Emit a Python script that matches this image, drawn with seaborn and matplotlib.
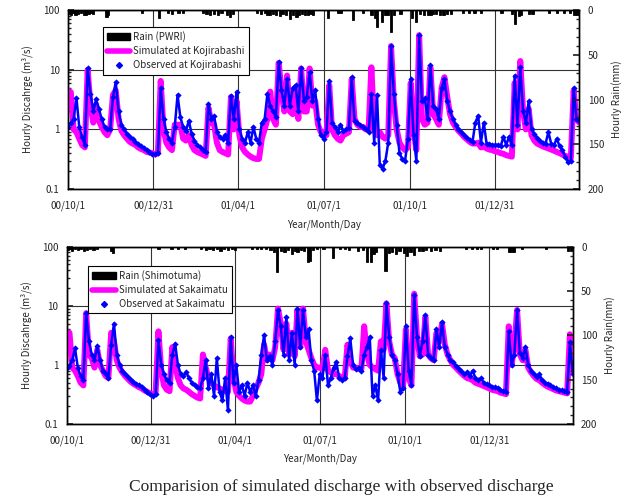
import pandas as pd
import matplotlib
matplotlib.use('Agg')
import matplotlib.pyplot as plt
import seaborn as sns
from matplotlib.lines import Line2D
from matplotlib.patches import Patch
from matplotlib.ticker import LogLocator, NullFormatter, MultipleLocator, FixedLocator

# series sampled every 3 days from 2000-10-01
start = pd.Timestamp('2000-10-01')
step_days = 3

koji_sim = [4.5, 4.2, 1.0, 0.9, 0.7, 0.55, 0.5, 10, 2.5, 1.3,
            2.6, 1.4, 1.1, 0.9, 0.8, 1.0, 3.8, 4.5, 1.5, 0.95,
            0.8, 0.7, 0.62, 0.58, 0.55, 0.5, 0.47, 0.45, 0.42, 0.41,
            0.4, 0.38, 0.4, 6.5, 1.0, 0.6, 0.5, 0.45, 1.2, 1.2,
            1.2, 0.7, 0.65, 0.8, 0.55, 0.45, 0.42, 0.4, 0.38, 0.36,
            2.3, 1.3, 1.2, 0.6, 0.45, 0.42, 0.4, 0.38, 3.5, 1.0,
            3.0, 0.8, 0.5, 0.42, 0.38, 0.35, 0.33, 0.32, 0.32, 0.7,
            1.0, 1.5, 4.3, 1.5, 1.2, 13, 4.5, 2.0, 8.0, 2.0,
            1.8, 4.5, 1.5, 10.5, 2.0, 2.0, 10.5, 2.5, 3.0, 1.2,
            0.9, 0.9, 0.8, 5.5, 1.0, 0.8, 0.7, 0.65, 0.8, 0.85,
            0.9, 7.0, 1.5, 1.2, 1.1, 1.1, 1.0, 1.0, 11, 1.0,
            0.8, 0.9, 0.75, 0.7, 0.8, 25, 3.0, 1.0, 0.6, 0.5,
            0.45, 0.5, 6.0, 1.0, 0.45, 38, 1.5, 1.2, 1.3, 11,
            1.8, 1.5, 1.2, 5.0, 7.5, 3.5, 1.8, 1.3, 1.1, 0.95,
            0.85, 0.75, 0.68, 0.62, 0.58, 0.58, 0.6, 0.5, 0.52, 0.48,
            0.46, 0.45, 0.43, 0.42, 0.4, 0.39, 0.37, 0.36, 0.35, 6.0,
            1.0, 14, 2.0, 1.0, 2.2, 0.8, 0.65, 0.58, 0.55, 0.52,
            0.5, 0.48, 0.46, 0.44, 0.42, 0.4, 0.38, 0.36, 0.35, 0.33,
            4.5, 1.5, 1.3]

koji_obs = [1.1, 1.3, 1.5, 3.4, 1.1, 0.75, 0.55, 10.5, 4.0, 2.0,
            3.2, 2.2, 1.5, 1.1, 1.0, 1.0, 3.5, 6.2, 2.0, 1.2,
            1.0, 0.85, 0.75, 0.68, 0.62, 0.57, 0.52, 0.48, 0.45, 0.42,
            0.39, 0.38, 0.4, 5.0, 1.5, 0.9, 0.7, 0.6, 1.1, 3.8,
            1.6, 1.1, 0.95, 1.4, 0.85, 0.65, 0.55, 0.5, 0.45, 0.42,
            2.7, 1.5, 1.7, 0.9, 0.75, 0.7, 0.8, 0.6, 3.7, 1.5,
            4.3, 1.0, 0.7, 0.6, 0.9, 0.6, 1.1, 0.7, 0.6, 1.3,
            1.5, 4.0, 2.5, 2.0, 1.6, 13.5, 4.5, 2.5, 7.0, 2.5,
            5.0, 5.5, 2.0, 10.5, 3.0, 3.5, 9.0, 3.0, 4.5, 1.5,
            0.8, 0.7, 0.9, 6.5, 1.3, 1.1, 0.9, 1.2, 0.95, 1.0,
            1.05, 7.5, 1.4, 1.3, 1.2, 1.1, 1.0, 0.9, 4.0, 0.6,
            3.8, 0.25, 0.22, 0.3, 0.6, 25, 4.0, 1.2, 0.4, 0.32,
            0.3, 0.7, 7.0, 0.8, 0.3, 38, 3.0, 3.3, 1.5, 12,
            2.5, 2.2, 1.5, 5.0, 7.0, 3.0, 2.0, 1.5, 1.2, 1.0,
            0.9, 0.8, 0.72, 0.66, 0.62, 1.3, 1.7, 0.6, 1.3, 0.58,
            0.56, 0.55, 0.55, 0.55, 0.52, 0.75, 0.55, 0.75, 0.55, 8.0,
            1.2, 11, 2.0, 1.3, 3.0, 1.0, 0.85, 0.72, 0.65, 0.6,
            0.58, 0.9, 0.58, 0.55, 0.7, 0.52, 0.45, 0.35, 0.28, 0.3,
            5.0, 1.5, 1.4]

saka_sim = [3.6, 3.5, 0.9, 0.8, 0.65, 0.5, 0.45, 7.5, 1.5, 1.3,
            0.9, 1.8, 1.0, 0.8, 0.65, 0.6, 3.5, 2.5, 1.2, 0.9,
            0.75, 0.65, 0.58, 0.52, 0.48, 0.45, 0.42, 0.4, 0.37, 0.35,
            0.33, 0.31, 0.35, 3.7, 0.8, 0.45, 0.38, 0.36, 2.0, 1.0,
            0.6, 0.45, 0.4, 0.38, 0.35, 0.32, 0.3, 0.28, 0.27, 1.5,
            0.9, 0.6, 0.5, 0.45, 0.42, 0.4, 0.38, 0.36, 0.35, 2.8,
            0.6, 0.35, 0.3, 0.27, 0.25, 0.24, 0.24, 0.3, 0.4, 0.5,
            0.7, 2.2, 1.2, 1.5, 1.2, 2.0, 9.0, 5.0, 1.8, 5.0,
            1.5, 3.5, 1.4, 8.5, 2.0, 9.0, 2.5, 1.8, 1.3, 1.0,
            0.9, 0.9, 0.85, 1.8, 0.8, 0.75, 0.7, 0.7, 0.65, 0.6,
            0.6, 2.2, 1.2, 0.9, 0.9, 0.85, 0.85, 4.5, 1.5, 1.0,
            0.9, 0.85, 0.8, 2.5, 1.8, 11, 2.5, 1.5, 1.3, 0.7,
            0.5, 0.45, 4.0, 0.6, 0.45, 16, 3.0, 1.4, 1.5, 6.5,
            1.5, 1.3, 1.2, 3.5, 2.5, 5.0, 2.2, 1.5, 1.2, 1.0,
            0.9, 0.8, 0.72, 0.65, 0.6, 0.58, 0.55, 0.5, 0.48, 0.46,
            0.44, 0.42, 0.4, 0.38, 0.37, 0.36, 0.34, 0.33, 0.32, 4.5,
            1.0, 2.0, 8.5, 1.5, 1.2, 1.8, 0.9, 0.75, 0.65, 0.58,
            0.55, 0.5, 0.46, 0.43, 0.41, 0.39, 0.37, 0.36, 0.35, 0.34,
            0.33, 3.3, 1.0]

saka_obs = [0.9, 0.95, 1.2, 1.9, 0.9, 0.65, 0.55, 7.6, 2.5, 1.5,
            1.2, 2.1, 1.2, 0.8, 0.7, 0.6, 2.2, 5.0, 1.5, 1.0,
            0.8, 0.7, 0.62, 0.56, 0.52, 0.48, 0.45, 0.42, 0.38, 0.35,
            0.32, 0.3, 0.32, 2.6, 1.0, 0.7, 0.55, 0.5, 1.5, 2.3,
            1.0, 0.7, 0.65, 0.75, 0.6, 0.5, 0.45, 0.42, 0.4, 0.6,
            1.2, 0.4, 0.7, 0.3, 1.3, 0.35, 0.25, 0.6, 0.17, 3.0,
            0.5, 1.0, 0.35, 0.45, 0.3, 0.5, 0.35, 0.45, 0.3, 0.55,
            1.5, 3.2, 1.2, 1.4, 1.0, 2.5, 8.5, 4.5, 1.5, 6.5,
            1.2, 3.5, 1.0, 9.0, 2.0, 8.5, 3.0, 4.0, 1.2, 0.8,
            0.25, 0.7, 0.6, 1.5, 0.45, 0.6, 0.9, 1.1, 0.6, 0.55,
            0.6, 1.4, 2.8, 1.0, 0.85, 0.9, 0.8, 1.5, 2.0, 3.0,
            0.3, 0.45, 0.25, 1.8, 0.6, 11, 3.0, 1.5, 1.2, 0.7,
            0.35, 0.4, 4.5, 0.8, 0.45, 15, 3.0, 1.4, 2.5, 7.0,
            1.5, 1.3, 1.2, 4.0, 2.0, 5.3, 2.0, 1.5, 1.2, 1.1,
            0.95, 0.85, 0.78, 0.7, 0.75, 0.65, 0.8, 0.6, 0.55, 0.6,
            0.5, 0.47, 0.45, 0.43, 0.42, 0.4, 0.38, 0.36, 0.35, 3.7,
            1.0, 1.5, 8.5, 1.6, 1.3, 2.0, 1.0, 0.8, 0.7, 0.62,
            0.7, 0.55, 0.5, 0.48, 0.45, 0.42, 0.4, 0.38, 0.37, 0.36,
            0.35, 2.4, 0.7]

# rain: day offset from 2000-10-01 and mm
pwri_day = [1, 3, 6, 8, 11, 14, 17, 19, 22, 25, 27, 41, 43, 79, 97, 107, 111, 118, 123,
            144, 148, 152, 156, 160, 164, 170, 173, 176, 202, 206, 210, 213, 216, 219, 222,
            226, 229, 233, 237, 240, 244, 247, 250, 253, 256, 259, 262, 278, 288, 291, 304,
            315, 324, 328, 330, 335, 339, 342, 345, 348, 355, 367, 372, 376, 380, 385, 388,
            390, 393, 397, 401, 405, 409, 422, 428, 434, 441, 463, 474, 477, 482, 484, 492,
            496, 514, 522, 530, 536, 541, 544]
pwri_mm = [4, 5, 3, 6, 4, 3, 5, 6, 4, 3, 4, 8, 5, 3, 9, 3, 4, 3, 3,
           3, 4, 5, 4, 6, 3, 5, 8, 4, 3, 4, 3, 5, 6, 4, 5,
           7, 4, 6, 10, 5, 8, 6, 4, 5, 5, 4, 6, 9, 3, 3, 11,
           3, 5, 9, 19, 13, 6, 6, 24, 5, 4, 9, 13, 4, 5, 5, 5,
           4, 4, 5, 5, 4, 4, 3, 3, 3, 3, 3, 4, 15, 7, 6, 4,
           4, 3, 3, 3, 3, 6, 6]

shimo_day = [1, 3, 6, 9, 12, 15, 19, 22, 25, 29, 33, 48, 50, 99, 113, 120, 128,
             145, 150, 154, 158, 162, 166, 170, 174, 178, 182, 200, 205, 210, 215, 220,
             224, 227, 231, 235, 239, 243, 246, 249, 253, 256, 260, 262, 266, 270, 277,
             287, 295, 300, 305, 314, 320, 324, 328, 331, 334, 344, 348, 351, 355, 359,
             364, 367, 371, 375, 380, 384, 388, 393, 398, 403, 431, 437, 443, 447, 460,
             464, 477, 480, 483, 491, 517, 541, 544]
shimo_mm = [4, 3, 5, 3, 4, 3, 5, 4, 3, 4, 3, 5, 7, 3, 3, 3, 3,
            3, 4, 3, 4, 3, 5, 3, 4, 3, 4, 3, 3, 3, 3, 4,
            6, 28, 5, 6, 4, 8, 5, 6, 4, 5, 17, 16, 4, 3, 3,
            13, 3, 3, 4, 5, 4, 17, 17, 8, 6, 27, 7, 6, 8, 5,
            7, 10, 6, 9, 5, 5, 4, 5, 4, 5, 3, 3, 3, 3, 3,
            3, 6, 6, 6, 3, 3, 5, 5]

tick_dates = ['2000-10-01', '2000-12-31', '2001-04-01', '2001-07-01', '2001-10-01', '2001-12-31']
tick_labels = ['00/10/1', '00/12/31', '01/04/1', '01/07/1', '01/10/1', '01/12/31']
end = pd.Timestamp('2002-03-31')

sns.set_theme(style='white')
plt.rcParams['font.family'] = ['Noto Sans CJK JP', 'DejaVu Sans']
plt.rcParams['axes.unicode_minus'] = False

FS = 7


def draw_panel(fig, rect, sim, obs, rain_day, rain_mm, names, leg_anchor):
    dates = pd.date_range(start, periods=len(sim), freq=f'{step_days}D')
    df = pd.DataFrame({'date': dates, 'sim': sim, 'obs': obs})
    ax = fig.add_axes(rect)
    ax.set_yscale('log')
    sns.lineplot(data=df, x='date', y='sim', ax=ax, color='#ff00ff', linewidth=4.3, zorder=3)
    sns.lineplot(data=df, x='date', y='obs', ax=ax, color='#0000ff', linewidth=1.8,
                 marker='D', markersize=3.2, markeredgewidth=0, zorder=4)
    ax.set_ylim(0.1, 100)
    ax.set_xlim(start, end)
    ax.yaxis.set_major_locator(FixedLocator([0.1, 1, 10, 100]))
    ax.set_yticklabels(['0.1', '1', '10', '100'])
    ax.yaxis.set_minor_locator(LogLocator(base=10, subs=range(2, 10)))
    ax.yaxis.set_minor_formatter(NullFormatter())
    ax.set_xticks(pd.to_datetime(tick_dates))
    ax.set_xticklabels(tick_labels)
    ax.grid(True, which='major', color='#333333', linewidth=0.8)
    ax.tick_params(axis='y', which='both', direction='in', labelsize=FS, pad=6)
    ax.tick_params(axis='y', which='major', length=4)
    ax.tick_params(axis='y', which='minor', length=2.5)
    ax.tick_params(axis='x', length=0, labelsize=FS, pad=8)
    ax.set_xlabel('Year/Month/Day', fontsize=FS, labelpad=6)
    ax.set_ylabel('Hourly Discahrge (m\u00b3/s)', fontsize=FS, labelpad=7)
    for s in ax.spines.values():
        s.set_color('black')
        s.set_linewidth(1.0)

    ax2 = ax.twinx()
    rain_dates = start + pd.to_timedelta(rain_day, unit='D')
    ax2.bar(rain_dates, rain_mm, width=2.4, color='black', edgecolor='black',
            linewidth=0.6, align='center')
    ax2.set_ylim(200, 0)
    ax2.set_xlim(start, end)
    ax2.set_yticks([0, 50, 100, 150, 200])
    ax2.yaxis.set_minor_locator(MultipleLocator(10))
    ax2.tick_params(axis='y', which='both', direction='in', labelsize=FS, pad=6)
    ax2.tick_params(axis='y', which='major', length=4)
    ax2.tick_params(axis='y', which='minor', length=2.5)
    ax2.set_ylabel('Hourly Rain(mm)', fontsize=FS, labelpad=5)
    ax2.grid(False)
    for s in ax2.spines.values():
        s.set_color('black')
        s.set_linewidth(1.0)

    handles = [Patch(facecolor='black', edgecolor='black'),
               Line2D([], [], color='#ff00ff', linewidth=4),
               Line2D([], [], color='#0000ff', linestyle='none', marker='D', markersize=3)]
    leg = ax2.legend(handles, names, loc='upper left', bbox_to_anchor=leg_anchor,
                     fontsize=FS, frameon=True, fancybox=False, framealpha=1,
                     edgecolor='black', handlelength=2.4, handletextpad=0.3,
                     borderpad=0.45, labelspacing=0.4, borderaxespad=0)
    leg.get_frame().set_linewidth(0.8)
    return ax


fig = plt.figure(figsize=(6.21, 4.95), dpi=100)
fig.patch.set_facecolor('white')

draw_panel(fig, [0.1095, 0.618, 0.8233, 0.3616], koji_sim, koji_obs, pwri_day, pwri_mm,
           ['Rain (PWRI)', 'Simulated at Kojirabashi', 'Observed at Kojirabashi'],
           (0.068, 0.905))
draw_panel(fig, [0.1074, 0.1434, 0.8148, 0.3582], saka_sim, saka_obs, shimo_day, shimo_mm,
           ['Rain (Shimotuma)', 'Simulated at Sakaimatu', 'Observed at Sakaimatu'],
           (0.042, 0.891))

fig.text(0.55, 1 - 487 / 495, 'Comparision of simulated discharge with observed discharge',
         family='Liberation Serif', fontsize=12.5, ha='center', va='center')

fig.savefig('out.png', dpi=100)
